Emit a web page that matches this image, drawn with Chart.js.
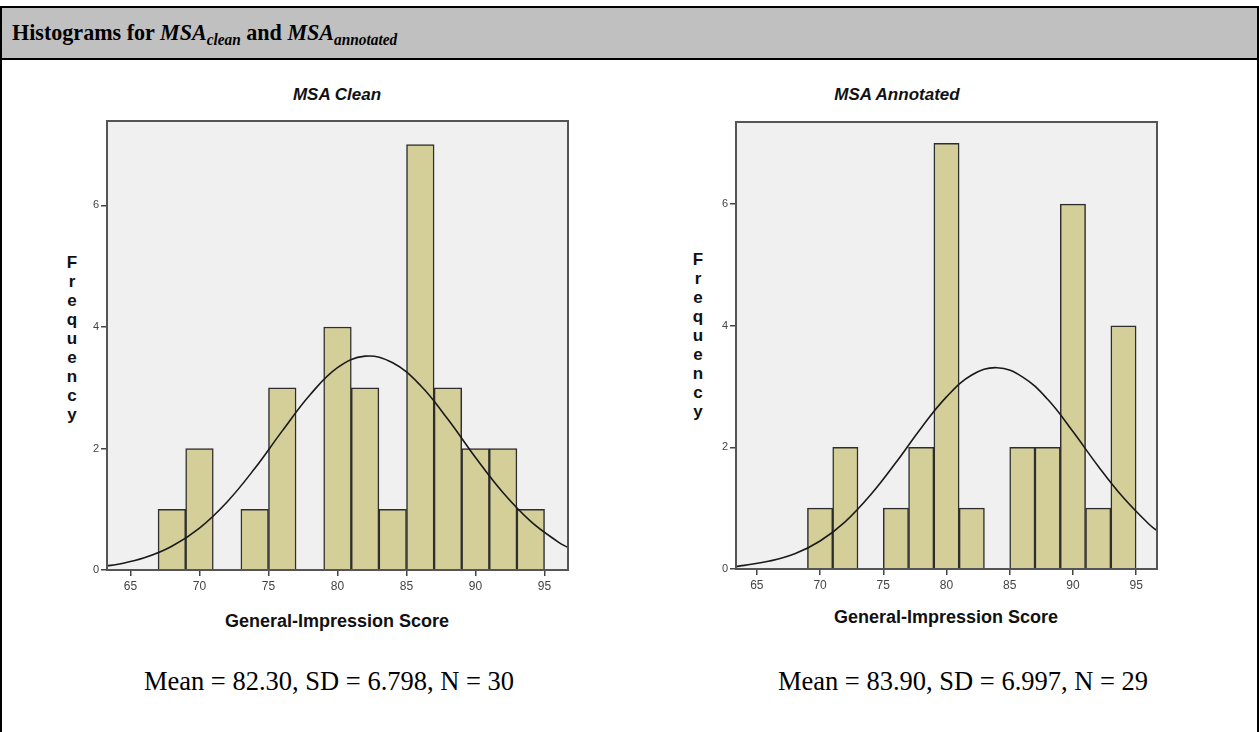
<!DOCTYPE html>
<html>
<head>
<meta charset="utf-8">
<script src="https://cdn.jsdelivr.net/npm/chart.js@4"></script>
<style>
  body { margin: 0; width: 1259px; height: 732px; overflow: hidden; position: relative; background: #fff;
         font-family: "Liberation Sans", Arial, sans-serif; }
  #frame { position: absolute; left: 0; top: 6px; width: 1259px; height: 760px; box-sizing: border-box;
           border: 2px solid #000; border-bottom: none; }
  #header { height: 50px; background: #c0c0c0; border-bottom: 2px solid #000; }
  .abs { position: absolute; white-space: nowrap; }
  .heading { left: 12px; top: 18px; font: bold 23px/30px "Liberation Serif", "Times New Roman", serif;
             transform: scaleX(0.96); transform-origin: left center; }
  .heading sub { font-size: 16px; vertical-align: -5px; line-height: 0; }
  .ctitle { font: italic bold 17px/20px "Liberation Sans", Arial, sans-serif; color: #111; width: 300px; text-align: center; }
  .xtitle { font: bold 18px/22px "Liberation Sans", Arial, sans-serif; color: #111; width: 320px; text-align: center; }
  .ytitle { font: bold 17px/19px "Liberation Sans", Arial, sans-serif; color: #111; width: 20px; text-align: center; }
  .stats { font: 26.5px/30px "Liberation Serif", "Times New Roman", serif; color: #000; width: 420px; text-align: center; }
  canvas { position: absolute; }
</style>
</head>
<body>
<div id="frame"><div id="header"></div></div>
<div class="abs heading">Histograms for <i>MSA<sub>clean</sub></i> and <i>MSA<sub>annotated</sub></i></div>

<div class="abs ctitle" style="left:187px; top:85px;">MSA Clean</div>
<div class="abs ctitle" style="left:747px; top:85px;">MSA Annotated</div>

<div class="abs ytitle" style="left:62px; top:253px;">F<br>r<br>e<br>q<br>u<br>e<br>n<br>c<br>y</div>
<div class="abs ytitle" style="left:688px; top:250px;">F<br>r<br>e<br>q<br>u<br>e<br>n<br>c<br>y</div>

<div class="abs xtitle" style="left:177px; top:610px;">General-Impression Score</div>
<div class="abs xtitle" style="left:786px; top:606px;">General-Impression Score</div>

<div class="abs stats" style="left:119px; top:666px;">Mean = 82.30, SD = 6.798, N = 30</div>
<div class="abs stats" style="left:753px; top:666px;">Mean = 83.90, SD = 6.997, N = 29</div>

<canvas id="cleanChart" width="520" height="530" style="left:60px; top:110px;"></canvas>
<canvas id="annotChart" width="500" height="530" style="left:690px; top:110px;"></canvas>

<script>
// Histogram bins (centres of 2-point bins) and frequencies
const cleanBins = [68, 70, 74, 76, 80, 82, 84, 86, 88, 90, 92, 94];
const cleanCounts = [1, 2, 1, 3, 4, 3, 1, 7, 3, 2, 2, 1];
const annotBins = [70, 72, 76, 78, 80, 82, 86, 88, 90, 92, 94];
const annotCounts = [1, 2, 1, 2, 7, 1, 2, 2, 6, 1, 4];

// Normal curve
const cleanCurveX = [63.3, 64, 66, 68, 70, 72, 74, 76, 78, 80, 82, 84, 86, 88, 90, 92, 94, 96, 96.7];
const cleanCurveY = [0.07, 0.09, 0.20, 0.39, 0.69, 1.12, 1.67, 2.29, 2.88, 3.33, 3.52, 3.41, 3.04, 2.48, 1.85, 1.27, 0.80, 0.46, 0.37];
const annotCurveX = [63.35, 64, 66, 68, 70, 72, 74, 76, 78, 80, 82, 84, 86, 88, 90, 92, 94, 96, 96.65];
const annotCurveY = [0.04, 0.06, 0.13, 0.25, 0.46, 0.78, 1.22, 1.75, 2.32, 2.83, 3.19, 3.31, 3.16, 2.79, 2.26, 1.69, 1.17, 0.74, 0.63];

// Tick labels
const xTicks = [65, 70, 75, 80, 85, 90, 95];
const yTicks = [0, 2, 4, 6];

// Grey plot background and dark frame
const plotFrame = {
  id: "plotFrame",
  beforeDraw(chart) {
    const { ctx, chartArea: a } = chart;
    ctx.save();
    ctx.fillStyle = "#f0f0f0";
    ctx.fillRect(a.left, a.top, a.width, a.height);
    ctx.restore();
  },
  afterDraw(chart) {
    const { ctx, chartArea: a } = chart;
    ctx.save();
    ctx.strokeStyle = "#555";
    ctx.lineWidth = 2;
    ctx.strokeRect(a.left, a.top, a.width, a.height);
    ctx.restore();
  }
};

function histogram(id, bins, counts, curveX, curveY, xMin, xMax, yMax, yW, xH, pad) {
  new Chart(document.getElementById(id), {
    type: "bar",
    data: {
      datasets: [
        {
          type: "line",
          data: curveX.map((x, i) => ({ x, y: curveY[i] })),
          borderColor: "#1a1a1a",
          borderWidth: 1.6,
          pointRadius: 0,
          tension: 0.4,
          fill: false,
          order: 0
        },
        {
          type: "bar",
          data: bins.map((x, i) => ({ x, y: counts[i] })),
          backgroundColor: "#d4cf98",
          borderColor: "#2e2e2e",
          borderWidth: 1.5,
          barPercentage: 1,
          categoryPercentage: 1,
          order: 1
        }
      ]
    },
    options: {
      responsive: false,
      animation: false,
      devicePixelRatio: 1,
      layout: { padding: pad },
      plugins: { legend: { display: false }, tooltip: { enabled: false } },
      scales: {
        x: {
          type: "linear",
          min: xMin,
          max: xMax,
          offset: false,
          afterBuildTicks: s => { s.ticks = xTicks.map(v => ({ value: v })); },
          afterFit: s => { s.height = xH; },
          grid: { offset: false, drawOnChartArea: false, drawTicks: true, tickLength: 6, color: "#444", lineWidth: 1.5 },
          border: { display: false },
          ticks: { font: { family: "Liberation Sans", size: 12 }, color: "#444", padding: 3, maxRotation: 0 }
        },
        y: {
          min: 0,
          max: yMax,
          afterBuildTicks: s => { s.ticks = yTicks.map(v => ({ value: v })); },
          afterFit: s => { s.width = yW; },
          grid: { drawOnChartArea: false, drawTicks: true, tickLength: 6, color: "#444", lineWidth: 1.5 },
          border: { display: false },
          ticks: { font: { family: "Liberation Sans", size: 11 }, color: "#444", padding: 2 }
        }
      }
    },
    plugins: [plotFrame]
  });
}

histogram("cleanChart", cleanBins, cleanCounts, cleanCurveX, cleanCurveY, 63.3, 96.7, 7.39, 47, 70,
  { left: 0, right: 12, top: 11, bottom: 0 });
histogram("annotChart", annotBins, annotCounts, annotCurveX, annotCurveY, 63.35, 96.65, 7.35, 46, 71,
  { left: 0, right: 33, top: 12, bottom: 0 });
</script>
</body>
</html>
